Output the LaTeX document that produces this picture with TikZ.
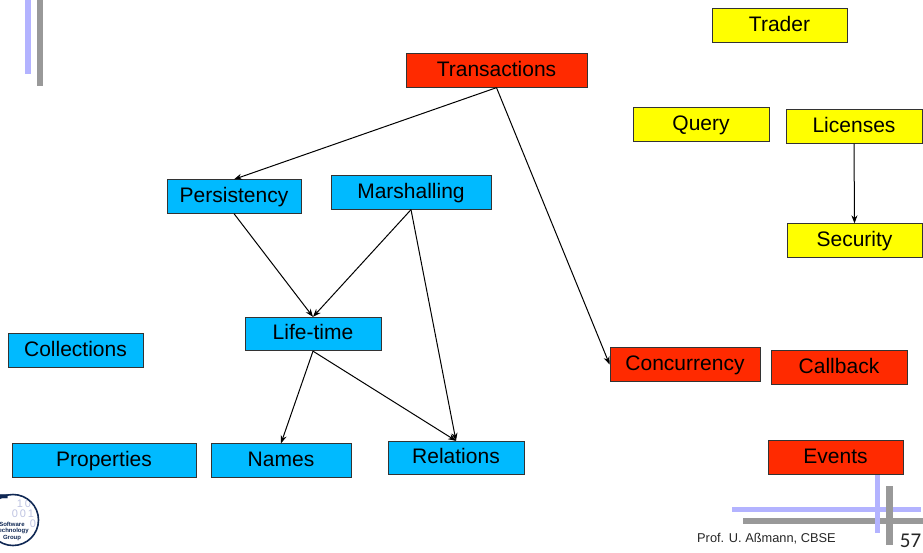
\documentclass[tikz,border=0pt]{standalone}
\usepackage{fontspec}
\setmainfont{Liberation Sans}
\newfontfamily\pagefont{Carlito}
\usetikzlibrary{arrows.meta}
\definecolor{boxblue}{RGB}{0,186,255}
\definecolor{boxred}{RGB}{255,42,0}
\definecolor{boxyellow}{RGB}{255,255,0}
\definecolor{barblue}{RGB}{179,179,255}
\definecolor{bargray}{RGB}{153,153,153}
\definecolor{logonavy}{RGB}{16,40,84}
\definecolor{logodigit}{RGB}{190,195,225}
\tikzset{
  concept/.style={draw=black!80, line width=0.8pt, inner sep=0pt, minimum height=33.5pt,
    text height=15pt, text depth=4pt, font=\fontsize{21}{24}\selectfont},
  dep/.style={-{Stealth[length=8pt, width=6pt]}, black, line width=1pt},
  barb/.style={fill=barblue, draw=none},
  barg/.style={fill=bargray, draw=none},
  digit/.style={text=logodigit, inner sep=0pt, font=\fontsize{11}{11}\selectfont},
  logotext/.style={text=logonavy, inner sep=0pt, font=\bfseries\fontsize{6}{6}\selectfont}
}
\begin{document}
\begin{tikzpicture}[x=1pt, y=-1pt]
  \useasboundingbox (0,0) rectangle (923,552);

  % Corner bars of the slide
  \fill[barb] (25,0) rectangle (31,74);
  \fill[barg] (37,0) rectangle (43,86);
  \fill[barb] (732,507) rectangle (921,512);
  \fill[barg] (743,518) rectangle (923,524);
  \fill[barg] (886,486) rectangle (893,545);
  \fill[barb] (875,474) rectangle (880,533);

  % Red concepts
  \node[concept, fill=boxred, minimum width=181pt] (transactions) at (496.5,70.5) {Transactions};
  \node[concept, fill=boxred, minimum width=150pt] (concurrency) at (685,364.5) {Concurrency};
  \node[concept, fill=boxred, minimum width=136pt] (callback) at (839,367.5) {Callback};
  \node[concept, fill=boxred, minimum width=135pt] (events) at (835.5,457.5) {Events};

  % Yellow concepts
  \node[concept, fill=boxyellow, minimum width=135pt] (trader) at (779.5,25.5) {Trader};
  \node[concept, fill=boxyellow, minimum width=136pt] (query) at (701,124.5) {Query};
  \node[concept, fill=boxyellow, minimum width=136pt] (licenses) at (854,126.5) {Licenses};
  \node[concept, fill=boxyellow, minimum width=135pt] (security) at (854.5,240.5) {Security};

  % Blue concepts
  \node[concept, fill=boxblue, minimum width=134pt] (persistency) at (234,196.5) {Persistency};
  \node[concept, fill=boxblue, minimum width=160pt] (marshalling) at (411,192.5) {Marshalling};
  \node[concept, fill=boxblue, minimum width=136pt] (lifetime) at (313,334) {Life-time};
  \node[concept, fill=boxblue, minimum width=135pt] (collections) at (75.5,350.5) {Collections};
  \node[concept, fill=boxblue, minimum width=184pt] (properties) at (104,460.5) {Properties};
  \node[concept, fill=boxblue, minimum width=140pt] (names) at (281,460.5) {Names};
  \node[concept, fill=boxblue, minimum width=136pt] (relations) at (456,458) {Relations};

  % Dependencies
  \draw[dep] (transactions.south) -- (persistency.north);
  \draw[dep] (transactions.south) -- (concurrency.west);
  \draw[dep] (persistency.south) -- (lifetime.north);
  \draw[dep] (marshalling.south) -- (lifetime.north);
  \draw[dep] (marshalling.south) -- (relations.north);
  \draw[dep] (lifetime.south) -- (names.north);
  \draw[dep] (lifetime.south) -- (relations.north);
  \draw[dep] (licenses.south) -- (security.north);

  % Logo, cut off by the left edge
  \begin{scope}
    \clip (0,480) rectangle (60,552);
    \node[digit] (dig1) at (24,504) {1\,0};
    \node[digit] (dig2) at (23,514) {0\,0\,1};
    \node[digit] (dig3) at (33,524) {0};
    \node[inner sep=0pt, text=logonavy, font=\bfseries\fontsize{36}{36}\selectfont] (logot) at (-3,507) {T};
    \node[logotext] (logo1) at (12,524) {Software};
    \node[logotext] (logo2) at (12,531) {Technology};
    \node[logotext] (logo3) at (12,538) {Group};
    \draw[logonavy, line width=1.6pt] (13,520) circle (25.5);
  \end{scope}

  % Footer
  \node[inner sep=0pt, anchor=west, text=black!85, font=\fontsize{12.8}{14}\selectfont] (footer) at (697,539) {Prof. U. Aßmann, CBSE};
  \node[inner sep=0pt, text=black!85, font=\pagefont\fontsize{21}{22}\selectfont] (pagenum) at (910.5,541) {57};
\end{tikzpicture}
\end{document}
